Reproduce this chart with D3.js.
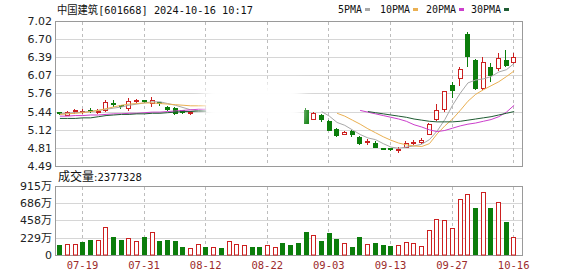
<!DOCTYPE html>
<html>
<head>
<meta charset="utf-8">
<script src="https://cdn.jsdelivr.net/npm/d3@7/dist/d3.min.js"></script>
<style>
body { margin: 0; background: #fff; }
svg { display: block; }
</style>
</head>
<body>
<script>
// trading days shown on the chart
const dates = ["07-16","07-17","07-18","07-19","07-22","07-23","07-24","07-25","07-26","07-29","07-30","07-31",
	"08-01","08-02","08-05","08-06","08-07","08-08","08-09","08-12","08-13","08-14","08-15","08-16","08-19","08-20",
	"08-21","08-22","08-23","08-26","08-27","08-28","08-29","08-30","09-02","09-03","09-04","09-05","09-06","09-09",
	"09-10","09-11","09-12","09-13","09-18","09-19","09-20","09-23","09-24","09-25","09-26","09-27","09-30",
	"10-08","10-09","10-10","10-11","10-14","10-15","10-16"];

const xTickLabels = ["07-19","07-31","08-12","08-22","09-03","09-13","09-27","10-16"];
const priceTicks = [7.02, 6.70, 6.39, 6.07, 5.76, 5.44, 5.12, 4.81, 4.49];
const volTicks = [915, 686, 458, 229, 0];

// candles (null = hidden in the picture)
const openP = [5.43,5.39,5.44,5.45,5.47,5.43,5.47,5.59,5.55,5.50,5.63,5.64,5.58,5.60,5.52,5.50,5.46,5.42,
	null,null,null,null,null,null,null,null,null,null,null,null,null,null,
	5.47,5.32,5.38,5.28,5.13,5.05,5.10,5.00,4.90,4.90,4.80,4.80,4.77,4.83,4.89,4.91,5.05,5.31,5.47,5.90,6.02,6.80,6.34,5.85,6.22,6.19,6.34,6.31];
const highP = [5.44,5.45,5.48,5.48,5.50,5.48,5.64,5.64,5.56,5.67,5.66,5.65,5.70,5.61,5.53,5.52,5.47,5.45,
	null,null,null,null,null,null,null,null,null,null,null,null,null,null,
	5.50,5.44,5.40,5.30,5.15,5.10,5.12,5.02,4.96,4.92,4.81,4.81,4.83,4.92,4.95,4.97,5.24,5.58,5.80,5.96,6.22,6.82,6.35,6.39,6.29,6.47,6.52,6.47];
const lowP = [5.40,5.38,5.41,5.42,5.43,5.41,5.45,5.54,5.51,5.47,5.61,5.60,5.54,5.56,5.46,5.40,5.41,5.39,
	null,null,null,null,null,null,null,null,null,null,null,null,null,null,
	5.24,5.31,5.28,5.12,5.01,5.04,5.02,4.88,4.87,4.82,4.78,4.77,4.74,4.82,4.87,4.90,5.04,5.29,5.45,5.69,5.90,6.24,5.84,5.84,5.98,6.17,6.23,6.28];
const closeP = [5.41,5.44,5.46,5.45,5.46,5.45,5.61,5.58,5.53,5.63,5.64,5.62,5.64,5.58,5.49,5.42,5.43,5.44,
	null,null,null,null,null,null,null,null,null,null,null,null,null,null,
	5.25,5.42,5.31,5.13,5.03,5.09,5.04,4.90,4.92,4.83,4.79,4.78,4.79,4.90,4.91,4.95,5.22,5.47,5.79,5.82,6.18,6.42,5.85,6.30,6.08,6.37,6.25,6.40];

// moving averages
const ma5 = [5.40,5.41,5.42,5.43,5.44,5.46,5.48,5.50,5.52,5.55,5.57,5.59,5.61,5.61,5.58,5.55,5.51,5.47,5.45,5.44,
	null,null,null,null,null,null,null,null,null,null,null,null,null,null,
	5.44,5.36,5.25,5.20,5.12,5.04,4.98,4.95,4.88,4.82,4.80,4.82,4.84,4.87,4.95,5.10,5.30,5.55,5.76,5.94,5.99,6.01,6.05,6.13,6.17,6.28];
const ma10 = [5.39,5.40,5.41,5.42,5.44,5.46,5.49,5.52,5.55,5.57,5.58,5.59,5.59,5.58,5.57,5.56,5.55,5.54,5.54,5.54,
	null,null,null,null,null,null,null,null,null,null,null,null,null,null,null,null,
	5.41,5.36,5.29,5.22,5.14,5.07,5.00,4.94,4.89,4.86,4.84,4.83,4.88,5.05,5.19,5.31,5.46,5.62,5.74,5.82,5.89,5.96,6.05,6.15];
const ma20 = [5.36,5.36,5.37,5.37,5.38,5.38,5.39,5.40,5.40,5.41,5.41,5.42,5.43,5.43,5.44,5.45,5.46,5.47,5.48,5.48,
	null,null,null,null,null,null,null,null,null,null,null,null,null,null,null,null,null,null,null,
	5.46,5.43,5.40,5.37,5.34,5.31,5.27,5.21,5.17,5.12,5.09,5.11,5.15,5.19,5.22,5.24,5.27,5.30,5.35,5.43,5.55];
const ma30 = [5.32,5.32,5.32,5.33,5.33,5.35,5.37,5.38,5.39,5.39,5.40,5.40,5.41,5.41,5.42,5.43,5.44,5.44,5.45,5.45,
	null,null,null,null,null,null,null,null,null,null,null,null,null,null,null,null,null,null,null,null,
	5.44,5.42,5.40,5.38,5.36,5.34,5.31,5.29,5.27,5.26,5.26,5.26,5.27,5.29,5.31,5.33,5.35,5.38,5.41,5.44];

const maNames = ["5PMA", "10PMA", "20PMA", "30PMA"];
const maColors = ["#a8a8a8", "#eab052", "#cc3fcc", "#1f5c33"];

// volume in 万 shares, and whether the bar is red (close above previous close)
const volume = [133,146,146,173,195,195,367,239,199,221,186,239,301,186,195,186,102,88,142,102,102,88,190,142,133,111,102,133,106,155,
	133,164,305,265,190,296,212,164,106,239,146,164,133,124,133,173,164,119,332,473,460,354,743,805,628,841,628,699,442,238];
const volUp = [0,1,1,0,0,1,1,0,0,1,1,0,1,0,0,0,0,1,1,0,1,0,1,1,1,0,0,1,1,0,
	0,0,0,1,0,0,0,1,0,0,1,0,0,0,1,1,1,1,1,1,1,1,1,1,0,1,0,1,0,1];
const lastVolume = "2377328";

const UP = "#cc2020";
const DOWN = "#0b7d0b";
const width = 578;
const height = 276;
const left = 55.5, right = 522.5;

const svg = d3.select("body").append("svg")
	.attr("width", width)
	.attr("height", height);

const defs = svg.append("defs");
defs.append("filter")
		.attr("id", "haze")
		.attr("x", "-60%").attr("y", "-60%")
		.attr("width", "220%").attr("height", "220%")
	.append("feGaussianBlur")
		.attr("stdDeviation", 6);
let grad = defs.append("linearGradient").attr("id", "smear");
grad.append("stop").attr("offset", "0%").attr("stop-color", "#888").attr("stop-opacity", 0);
grad.append("stop").attr("offset", "40%").attr("stop-color", "#888").attr("stop-opacity", 0.7);
grad.append("stop").attr("offset", "100%").attr("stop-color", "#888").attr("stop-opacity", 0);

const xScale = d3.scaleBand()
	.domain(dates)
	.range([56, 518])
	.paddingInner(0.3)
	.paddingOuter(0.15);
const bw = xScale.bandwidth();
const cx = (d) => Math.round(xScale(d) + bw / 2) - 0.5;

const yP = d3.scaleLinear().domain([4.49, 7.02]).range([166, 21]);
const yV = d3.scaleLinear().domain([0, 915]).range([255, 186]);
const px = (v) => Math.round(v) + 0.5;

// horizontal grid
svg.append("g")
	.selectAll("line")
	.data(priceTicks)
	.join("line")
		.attr("x1", left).attr("x2", right)
		.attr("y1", (d) => px(yP(d))).attr("y2", (d) => px(yP(d)))
		.attr("stroke", "#d6d6d6");
svg.append("g")
	.selectAll("line")
	.data(volTicks)
	.join("line")
		.attr("x1", left).attr("x2", right)
		.attr("y1", (d) => px(yV(d))).attr("y2", (d) => px(yV(d)))
		.attr("stroke", "#d6d6d6");

// vertical dashed grid
const vgrid = svg.append("g")
	.selectAll("g")
	.data(xTickLabels)
	.join("g");
vgrid.append("line")
	.attr("x1", cx).attr("x2", cx)
	.attr("y1", 22).attr("y2", 166)
	.attr("stroke", "#bdbdbd")
	.attr("stroke-dasharray", "3,3");
vgrid.append("line")
	.attr("x1", cx).attr("x2", cx)
	.attr("y1", 187).attr("y2", 259)
	.attr("stroke", "#bdbdbd")
	.attr("stroke-dasharray", "3,3");

// frames
svg.append("rect")
	.attr("x", left).attr("y", 21.5)
	.attr("width", right - left).attr("height", 145)
	.attr("fill", "none").attr("stroke", "#9a9a9a");
svg.append("rect")
	.attr("x", left).attr("y", 186.5)
	.attr("width", right - left).attr("height", 69)
	.attr("fill", "none").attr("stroke", "#9a9a9a");

// candles
const candles = dates.map((d, i) => ({
	d: d, o: openP[i], h: highP[i], l: lowP[i], c: closeP[i]
})).filter((k) => k.o != null);

const cg = svg.append("g")
	.selectAll("g")
	.data(candles)
	.join("g");
cg.append("line")
	.attr("x1", (k) => cx(k.d)).attr("x2", (k) => cx(k.d))
	.attr("y1", (k) => Math.round(yP(k.h))).attr("y2", (k) => Math.round(yP(k.l)) + 1)
	.attr("stroke", (k) => k.c >= k.o ? UP : DOWN);
cg.append("rect")
	.attr("x", (k) => Math.round(xScale(k.d)) + 0.5)
	.attr("width", Math.round(bw) - 1)
	.attr("y", (k) => px(yP(Math.max(k.o, k.c))))
	.attr("height", (k) => Math.max(1, Math.round(Math.abs(yP(k.o) - yP(k.c)))))
	.attr("fill", (k) => k.c >= k.o ? "#fff" : DOWN)
	.attr("stroke", (k) => k.c >= k.o ? UP : DOWN);

// moving average lines
const maSeries = [ma5, ma10, ma20, ma30];
const line = d3.line()
	.defined((v) => v != null)
	.x((v, i) => xScale(dates[i]) + bw / 2)
	.y((v) => yP(v));
svg.append("g")
	.selectAll("path")
	.data(maSeries)
	.join("path")
		.attr("d", line)
		.attr("fill", "none")
		.attr("stroke", (s, i) => maColors[i])
		.attr("stroke-width", 1);

// the washed out patch in the middle of the price panel
svg.append("rect")
	.attr("x", 204).attr("y", 82)
	.attr("width", 98).attr("height", 42)
	.attr("fill", "#fff")
	.attr("filter", "url(#haze)");
svg.append("line")
	.attr("x1", 208).attr("x2", 350)
	.attr("y1", px(yP(6.07))).attr("y2", px(yP(6.07)))
	.attr("stroke", "url(#smear)");

// volume bars
const vols = dates.map((d, i) => ({ d: d, v: volume[i], up: volUp[i] === 1 }));
svg.append("g")
	.selectAll("rect")
	.data(vols)
	.join("rect")
		.attr("x", (b) => b.up ? Math.round(xScale(b.d)) + 0.5 : Math.round(xScale(b.d)))
		.attr("width", (b) => b.up ? Math.round(bw) - 1 : Math.round(bw))
		.attr("y", (b) => b.up ? px(yV(b.v)) : Math.round(yV(b.v)))
		.attr("height", (b) => b.up ? 255 - px(yV(b.v)) : 255 - Math.round(yV(b.v)))
		.attr("fill", (b) => b.up ? "#fff" : DOWN)
		.attr("stroke", (b) => b.up ? UP : "none");

// axes
const yAxisP = d3.axisLeft(yP)
	.tickValues(priceTicks)
	.tickSize(0)
	.tickPadding(3)
	.tickFormat(d3.format(".2f"));
svg.append("g")
		.attr("transform", "translate(55,0)")
	.call(yAxisP)
	.call((g) => g.select(".domain").remove())
	.selectAll("text")
		.style("font-family", "'DejaVu Sans', sans-serif")
		.style("font-size", "11px")
		.attr("fill", "#222");

const yAxisV = d3.axisLeft(yV)
	.tickValues(volTicks)
	.tickSize(0)
	.tickPadding(3)
	.tickFormat((d) => d === 0 ? "0" : d + "万");
svg.append("g")
		.attr("transform", "translate(55,0)")
	.call(yAxisV)
	.call((g) => g.select(".domain").remove())
	.selectAll("text")
		.style("font-family", "'DejaVu Sans', 'Noto Sans CJK SC', sans-serif")
		.style("font-size", "11px")
		.attr("fill", "#222");

const xAxis = d3.axisBottom(xScale)
	.tickValues(xTickLabels)
	.tickSize(0)
	.tickPadding(7);
svg.append("g")
		.attr("transform", "translate(-0.5,255)")
	.call(xAxis)
	.call((g) => g.select(".domain").remove())
	.selectAll("text")
		.style("font-family", "'DejaVu Sans Mono', monospace")
		.style("font-size", "10.5px")
		.attr("fill", "#9c2b2b");

// title
svg.append("text")
	.attr("x", 57)
	.attr("y", 14)
	.attr("textLength", 196)
	.attr("lengthAdjust", "spacingAndGlyphs")
	.style("font-family", "'DejaVu Sans Mono', 'Noto Sans CJK SC', monospace")
	.style("font-size", "11px")
	.attr("fill", "#111")
	.text("中国建筑[601668] 2024-10-16 10:17");

// legend
const legendX = [338, 380, 426, 471];
const legend = svg.append("g")
	.selectAll("g")
	.data(maNames)
	.join("g");
legend.append("text")
	.attr("x", (d, i) => legendX[i])
	.attr("y", 13)
	.attr("textLength", (d) => d.length * 6)
	.attr("lengthAdjust", "spacingAndGlyphs")
	.style("font-family", "'DejaVu Sans Mono', monospace")
	.style("font-size", "11px")
	.attr("fill", "#111")
	.text((d) => d);
legend.append("rect")
	.attr("x", (d, i) => legendX[i] + d.length * 6 + 3)
	.attr("y", 8)
	.attr("width", 5)
	.attr("height", 3)
	.attr("fill", (d, i) => maColors[i]);

// volume caption
const cap = svg.append("text")
	.attr("x", 58)
	.attr("y", 181)
	.attr("fill", "#111");
cap.append("tspan")
	.style("font-family", "'Noto Sans CJK SC', sans-serif")
	.style("font-size", "12px")
	.text("成交量");
cap.append("tspan")
	.style("font-family", "'DejaVu Sans', sans-serif")
	.style("font-size", "10px")
	.text(":" + lastVolume);
</script>
</body>
</html>
